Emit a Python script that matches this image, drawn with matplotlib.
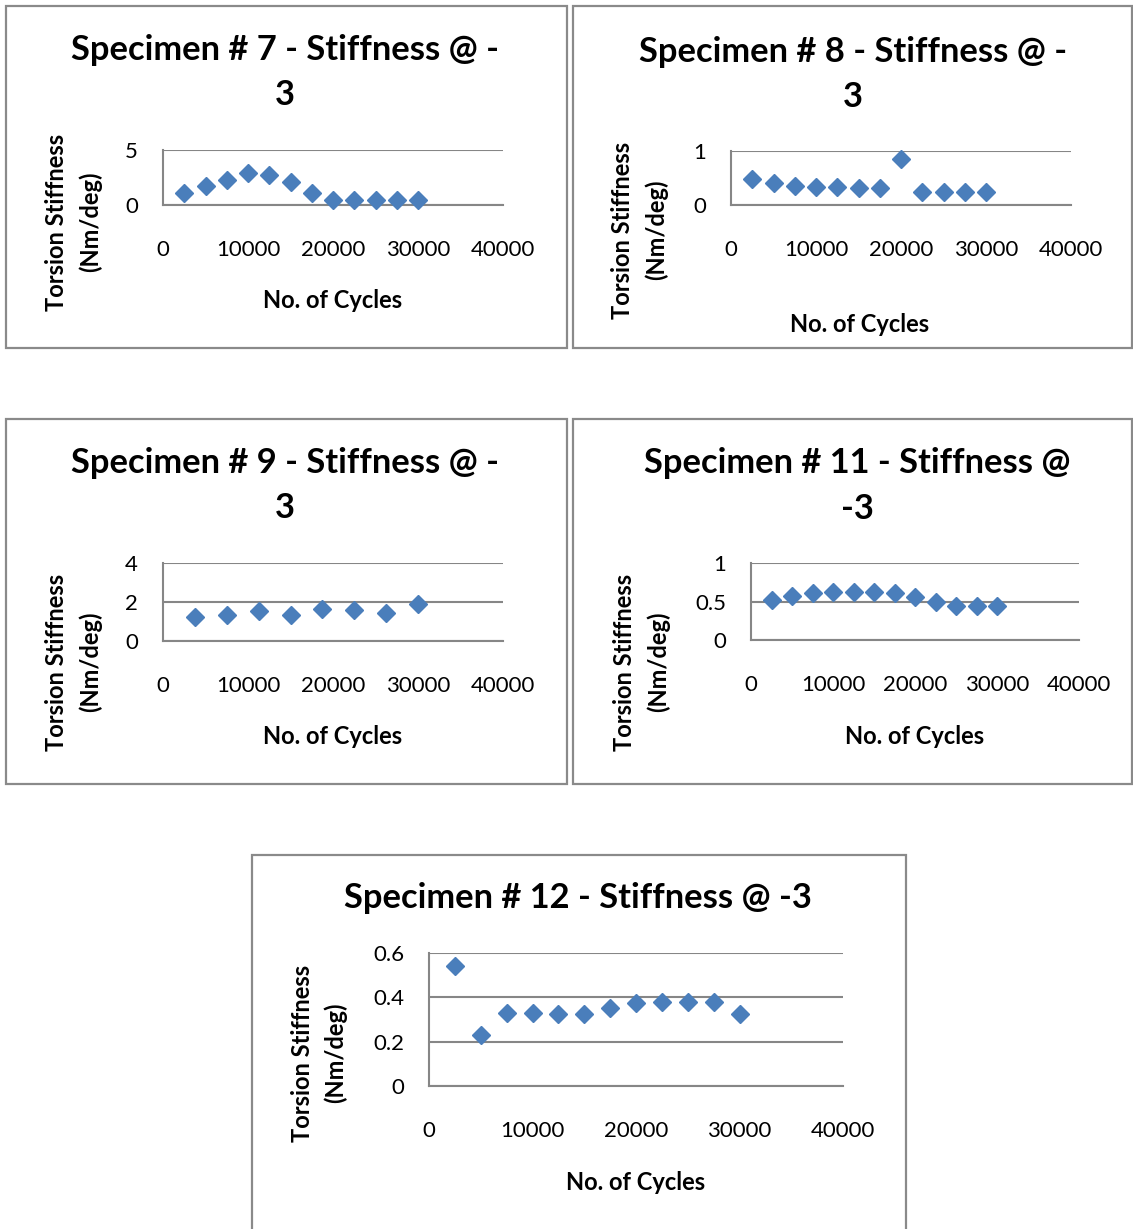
import matplotlib
matplotlib.use("Agg")
import matplotlib.pyplot as plt
from matplotlib.patches import Rectangle

plt.rcParams['font.family'] = ['Lato', 'DejaVu Sans']

W, H = 1133, 1229

# cycle counts and stiffness values per specimen
cycles = [2500, 5000, 7500, 10000, 12500, 15000, 17500, 20000, 22500, 25000, 27500, 30000]
cycles_9 = [3750, 7500, 11250, 15000, 18750, 22500, 26250, 30000]

spec7 = [1.1, 1.7, 2.3, 2.9, 2.7, 2.1, 1.1, 0.5, 0.5, 0.5, 0.5, 0.5]
spec8 = [0.48, 0.40, 0.36, 0.34, 0.33, 0.31, 0.31, 0.85, 0.25, 0.25, 0.25, 0.25]
spec9 = [1.21, 1.35, 1.55, 1.35, 1.64, 1.59, 1.44, 1.90]
spec11 = [0.52, 0.57, 0.61, 0.62, 0.62, 0.62, 0.61, 0.56, 0.49, 0.44, 0.44, 0.44]
spec12 = [0.54, 0.23, 0.33, 0.33, 0.325, 0.325, 0.35, 0.375, 0.38, 0.38, 0.38, 0.325]

x_ticks = [0, 10000, 20000, 30000, 40000]

BLUE = '#4A7EBB'
GRID = '#868686'
TICK_FS = 16
LAB_FS = 17

fig = plt.figure(figsize=(W / 100, H / 100), dpi=100)


def box(x0, y0, x1, y1):
    # chart frame, pixel coordinates from the top-left corner
    r = Rectangle((x0 / W, 1 - y1 / H), (x1 - x0) / W, (y1 - y0) / H,
                  transform=fig.transFigure, fill=False, ec='#8a8a8a', lw=1.6)
    fig.patches.append(r)


def panel(rect, xs, ys, yticks, ylabels, title_lines, title_pos, ylab_x, xlab_pos):
    x0, y0, x1, y1 = rect
    ax = fig.add_axes([x0 / W, 1 - y1 / H, (x1 - x0) / W, (y1 - y0) / H])
    ax.plot(xs, ys, ls='none', marker='D', ms=9.6, color=BLUE, mec=BLUE, zorder=3, clip_on=False)
    ax.set_xlim(0, 40000)
    ax.set_ylim(yticks[0], yticks[-1])
    ax.set_xticks(x_ticks)
    ax.set_xticklabels([str(t) for t in x_ticks])
    ax.set_yticks(yticks)
    ax.set_yticklabels(ylabels)
    ax.tick_params(length=0, labelsize=TICK_FS, colors='black')
    ax.tick_params(axis='x', pad=25)
    ax.tick_params(axis='y', pad=18)
    ax.grid(axis='y', color=GRID, lw=1.5)
    ax.set_axisbelow(True)
    for s in ('top', 'right'):
        ax.spines[s].set_visible(False)
    for s in ('left', 'bottom'):
        ax.spines[s].set_color(GRID)
        ax.spines[s].set_linewidth(1.5)

    tx, ty, dy = title_pos
    for i, line in enumerate(title_lines):
        fig.text(tx / W, 1 - (ty + i * dy) / H, line, ha='center', va='center',
                 fontsize=24.8, fontweight='bold')
    lx1, lx2, ly = ylab_x
    fig.text(lx1 / W, 1 - ly / H, 'Torsion Stiffness', rotation=90, ha='center', va='center',
             fontsize=LAB_FS, fontweight='bold')
    fig.text(lx2 / W, 1 - ly / H, '(Nm/deg)', rotation=90, ha='center', va='center',
             fontsize=LAB_FS, fontweight='bold')
    fig.text(xlab_pos[0] / W, 1 - xlab_pos[1] / H, 'No. of Cycles', ha='center', va='center',
             fontsize=LAB_FS, fontweight='bold')
    return ax


# frames
box(6, 6, 567, 348)
box(573, 6, 1132, 348)
box(6, 419, 567, 784)
box(573, 419, 1132, 784)
box(252, 855, 906, 1260)

panel((163, 150, 503, 205), cycles, spec7, [0, 5], ['0', '5'],
      ['Specimen # 7 - Stiffness @ -', '3'], (285, 50, 45), (57, 90, 222), (333, 301))
panel((731, 151, 1071, 205), cycles, spec8, [0, 1], ['0', '1'],
      ['Specimen # 8 - Stiffness @ -', '3'], (853, 52, 45), (623, 656, 230), (860, 324))
panel((163, 563, 503, 641), cycles_9, spec9, [0, 2, 4], ['0', '2', '4'],
      ['Specimen # 9 - Stiffness @ -', '3'], (285, 463, 45), (57, 90, 662), (333, 736))
panel((751, 563, 1079, 640), cycles, spec11, [0, 0.5, 1], ['0', '0.5', '1'],
      ['Specimen # 11 - Stiffness @', '-3'], (857, 463, 46), (625, 658, 662), (915, 736))
panel((429, 953, 843, 1086), cycles, spec12, [0, 0.2, 0.4, 0.6], ['0', '0.2', '0.4', '0.6'],
      ['Specimen # 12 - Stiffness @ -3'], (578, 898, 45), (302, 335, 1053), (636, 1182))

fig.savefig('out.png', dpi=100)
